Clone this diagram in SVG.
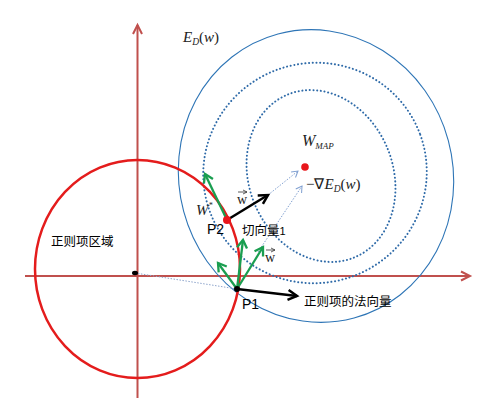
<svg xmlns="http://www.w3.org/2000/svg" width="497" height="420" viewBox="0 0 497 420">
<defs>
<style>
.axis{stroke:#c0504d;stroke-width:2;fill:none}
.blue{stroke:#2e75b6;stroke-width:1.1;fill:none}
.dot{stroke:#2e6aa8;stroke-width:2;fill:none;stroke-dasharray:0.1 3.6;stroke-linecap:round}
.thin{stroke:#7f9fd0;stroke-width:1;fill:none;stroke-dasharray:1.5 1.5}
.blk{stroke:#000;stroke-width:2.5;fill:none}
.grn{stroke:#1a9e50;stroke-width:2.3;fill:none}
.cjk{font-family:"Noto Sans CJK SC","Liberation Sans",sans-serif;font-size:12.5px;fill:#000}
.lbl{font-family:"Liberation Sans",Arial,sans-serif;font-size:14px;fill:#000}
.math{font-family:"Liberation Serif","Times New Roman",serif;font-style:italic;fill:#222}
</style>
<marker id="ma" markerUnits="userSpaceOnUse" markerWidth="14" markerHeight="14" refX="11" refY="7" orient="auto"><path d="M2,2.5 L11,7 L2,11.5" stroke="#c0504d" stroke-width="2" fill="none"/></marker>
<marker id="mb" markerUnits="userSpaceOnUse" markerWidth="14" markerHeight="14" refX="11" refY="7" orient="auto"><path d="M2,2 L11,7 L2,12" stroke="#000" stroke-width="2.5" fill="none"/></marker>
<marker id="mg" markerUnits="userSpaceOnUse" markerWidth="14" markerHeight="14" refX="11" refY="7" orient="auto"><path d="M3,2 L11,7 L3,12" stroke="#1a9e50" stroke-width="2.3" fill="none"/></marker>
<marker id="mt" markerUnits="userSpaceOnUse" markerWidth="10" markerHeight="10" refX="8" refY="5" orient="auto"><path d="M2,1.5 L8,5 L2,8.5" stroke="#7f9fd0" stroke-width="1" fill="none"/></marker>
<marker id="mw" markerUnits="userSpaceOnUse" markerWidth="6" markerHeight="6" refX="5" refY="3" orient="auto"><path d="M1,1 L5,3 L1,5" stroke="#333" stroke-width="0.8" fill="none"/></marker>
</defs>
<rect width="497" height="420" fill="#fff"/>
<g id="axes">
<line class="axis" x1="25" y1="276" x2="470" y2="276" marker-end="url(#ma)"/>
<line class="axis" x1="137.5" y1="398" x2="137.5" y2="25" marker-end="url(#ma)"/>
</g>
<g id="contours">
<ellipse class="blue" cx="316" cy="176" rx="137" ry="147" transform="rotate(-15 316 176)"/>
<ellipse class="dot" cx="315" cy="173" rx="112" ry="110" transform="rotate(-20 315 173)"/>
<ellipse class="dot" cx="321" cy="176" rx="72" ry="88" transform="rotate(-22 321 176)"/>
</g>
<g id="region">
<ellipse cx="137.5" cy="269" rx="102.5" ry="109" stroke="#e41c1c" stroke-width="2.5" fill="none"/>
<text class="cjk" x="51" y="246">正则项区域</text>
</g>
<g id="connectors">
<line x1="135" y1="273" x2="237" y2="289" stroke="#8ea5cc" stroke-width="1" stroke-dasharray="1.5 1.5"/>
<line class="thin" x1="268" y1="195" x2="298" y2="171" marker-end="url(#mt)"/>
<line class="thin" x1="258" y1="252" x2="302" y2="186" marker-end="url(#mt)"/>
<line class="grn" x1="227" y1="220" x2="205" y2="174" marker-end="url(#mg)"/>
<line class="grn" x1="237" y1="289" x2="243" y2="240" marker-end="url(#mg)"/>
<line class="grn" x1="237" y1="289" x2="263" y2="247" marker-end="url(#mg)"/>
<line class="grn" x1="237" y1="289" x2="218" y2="263" marker-end="url(#mg)"/>
<line class="blk" x1="227" y1="220" x2="268" y2="195" marker-end="url(#mb)"/>
<line class="blk" x1="237" y1="289" x2="297" y2="296" marker-end="url(#mb)"/>
</g>
<g id="origin"><ellipse cx="135" cy="273" rx="3" ry="2.2" fill="#000"/></g>
<g id="wmap">
<circle cx="305" cy="167" r="3.8" fill="#e8161b"/>
<text class="math" x="302" y="146" font-size="16">W<tspan font-size="9" dy="3">MAP</tspan></text>
</g>
<g id="grad">
<text class="math" x="306" y="189" font-size="15"><tspan font-style="normal">−∇</tspan>E<tspan font-size="9.5" dy="3">D</tspan><tspan dy="-3" font-style="normal">(</tspan>w<tspan font-style="normal">)</tspan></text>
</g>
<g id="ed">
<text class="math" x="183" y="42" font-size="15">E<tspan font-size="9.5" dy="3">D</tspan><tspan dy="-3" font-style="normal">(</tspan>w<tspan font-style="normal">)</tspan></text>
</g>
<g id="p2">
<circle cx="227" cy="220" r="4" fill="#e8161b"/>
<text class="lbl" x="207" y="234">P2</text>
<text class="math" x="196" y="215" font-size="15">W<tspan font-size="8" dy="-7">*</tspan></text>
<text class="cjk" x="242" y="235">切向量<tspan font-family="Liberation Sans" font-size="11">1</tspan></text>
</g>
<g id="p1">
<circle cx="237" cy="289" r="3" fill="#000"/>
<text class="lbl" x="242" y="309">P1</text>
<text class="cjk" x="304" y="306">正则项的法向量</text>
</g>
<g id="wlabels">
<text x="237" y="204" font-family="Liberation Serif,serif" font-size="14" fill="#222">w</text>
<line x1="238" y1="192" x2="247" y2="192" stroke="#333" stroke-width="0.8" marker-end="url(#mw)"/>
<text x="265" y="262" font-family="Liberation Serif,serif" font-size="14" fill="#222">w</text>
<line x1="266" y1="250" x2="275" y2="250" stroke="#333" stroke-width="0.8" marker-end="url(#mw)"/>
</g>
</svg>
